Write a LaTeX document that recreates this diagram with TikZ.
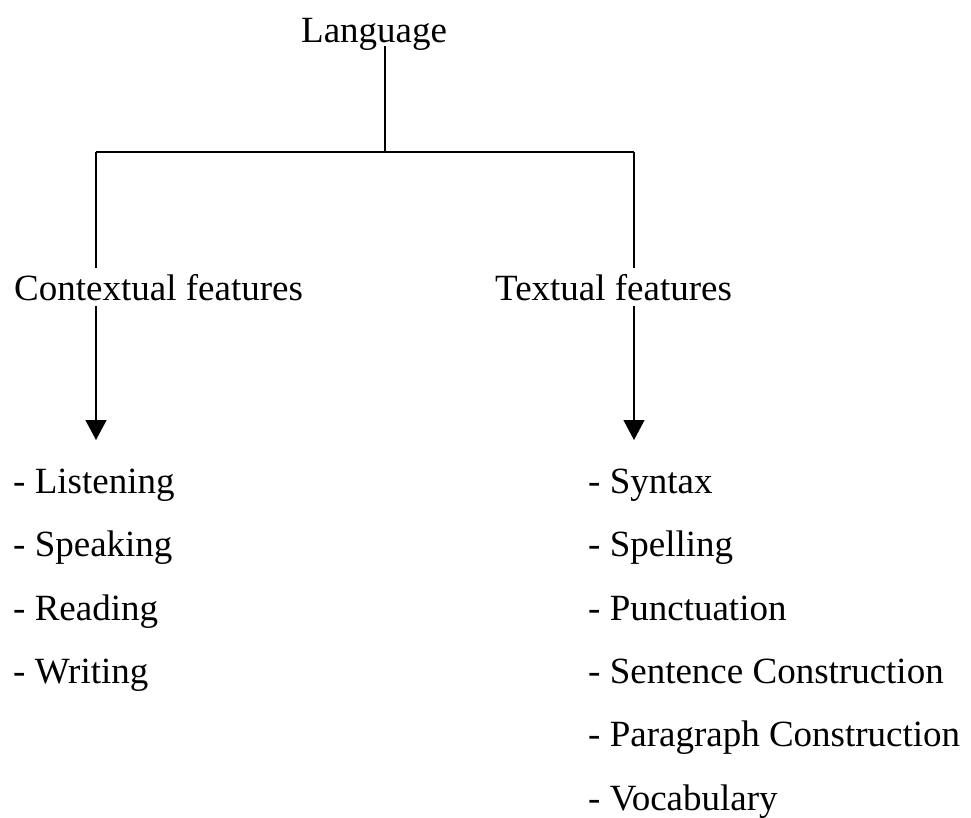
\documentclass[tikz,border=0pt]{standalone}
\usepackage{fontspec}
\setmainfont{Liberation Serif}
\usetikzlibrary{arrows.meta}
\begin{document}
\begin{tikzpicture}[x=1pt,y=-1pt,
  lbl/.style={font=\fontsize{37}{44}\selectfont, anchor=base west, inner sep=0pt},
  head/.style={lbl, inner ysep=5.5pt, inner xsep=0pt},
  conn/.style={line width=1.2pt, black},
  arr/.style={conn, -{Triangle[width=21pt,length=20pt]}}]
\useasboundingbox (0,0) rectangle (971,817);
% nodes
\node[lbl] (lang) at (301,42) {Language};
\node[head] (ctx) at (14,300) {Contextual features};
\node[head] (txt) at (495,300) {Textual features};
\node[lbl] (l1) at (13,493) {- Listening};
\node[lbl] (l2) at (13,556.5) {- Speaking};
\node[lbl] (l3) at (13,620) {- Reading};
\node[lbl] (l4) at (13,683) {- Writing};
\node[lbl] (r1) at (588,493) {- Syntax};
\node[lbl] (r2) at (588,556.5) {- Spelling};
\node[lbl] (r3) at (588,620) {- Punctuation};
\node[lbl] (r4) at (588,683) {- Sentence Construction};
\node[lbl] (r5) at (588,746.5) {- Paragraph Construction};
\node[lbl] (r6) at (588,810) {- Vocabulary};
% junctions
\coordinate (j) at (385,152);
\coordinate (jl) at (96,152);
\coordinate (jr) at (634,152);
\coordinate (al) at (96,440);
\coordinate (ar) at (634,440);
% connectors
\draw[conn] ([yshift=-4pt]lang.base -| j) -- (j);
\draw[conn] (jl) -- (jr);
\draw[conn] (jl) -- (ctx.north -| jl);
\draw[conn] (jr) -- (txt.north -| jr);
\draw[arr] (ctx.south -| al) -- (al);
\draw[arr] (txt.south -| ar) -- (ar);
\end{tikzpicture}
\end{document}
